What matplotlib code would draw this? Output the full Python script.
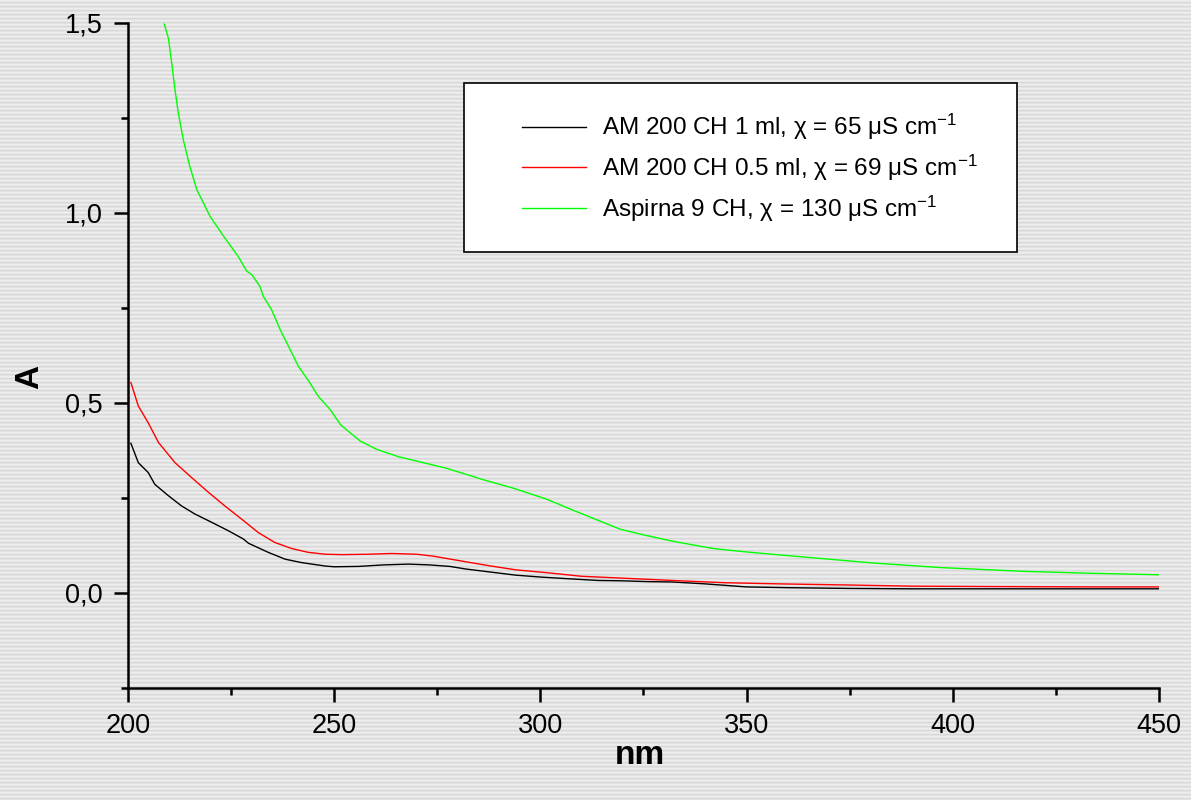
import numpy as np
import matplotlib
matplotlib.use('Agg')
import matplotlib.pyplot as plt
from matplotlib.ticker import MultipleLocator, FuncFormatter
from matplotlib.patches import Rectangle

plt.rcParams['font.family'] = ['Liberation Sans', 'DejaVu Sans']
plt.rcParams['mathtext.fontset'] = 'custom'
plt.rcParams['mathtext.rm'] = 'Liberation Sans'
plt.rcParams['mathtext.it'] = 'Liberation Sans:italic'

# UV spectra: wavelength (nm) vs absorbance
nm_am1 = [200.7, 202.5, 204.9, 206.5, 209.8, 213.0, 216.2, 220.3, 224.3, 228.0, 229.2,
          234.0, 238.1, 242.1, 247.8, 250, 256, 262, 268, 273, 278, 282, 288, 294,
          300, 306, 314, 320, 326, 332, 340, 350, 360, 375, 390, 410, 435, 450]
a_am1 = [0.394, 0.343, 0.317, 0.286, 0.256, 0.229, 0.208, 0.186, 0.164, 0.142, 0.131,
         0.107, 0.089, 0.080, 0.071, 0.069, 0.070, 0.074, 0.076, 0.074, 0.070, 0.063,
         0.055, 0.047, 0.042, 0.038, 0.033, 0.032, 0.030, 0.029, 0.024, 0.016, 0.014,
         0.012, 0.011, 0.011, 0.011, 0.011]

nm_am05 = [200.7, 202.5, 204.9, 207.4, 211.4, 215.4, 219.5, 223.5, 227.6, 231.6, 235.6,
           239.7, 243.7, 247.8, 252, 258, 264, 270, 274, 282, 288, 294, 302, 310, 320,
           334, 345, 358, 375, 390, 410, 435, 450]
a_am05 = [0.554, 0.492, 0.448, 0.396, 0.343, 0.304, 0.265, 0.229, 0.194, 0.159, 0.133,
          0.117, 0.107, 0.102, 0.101, 0.102, 0.104, 0.102, 0.097, 0.082, 0.071, 0.061,
          0.053, 0.044, 0.039, 0.032, 0.027, 0.024, 0.021, 0.018, 0.017, 0.016, 0.016]

nm_asp = [208.8, 209.8, 210.6, 211.4, 212.2, 213.4, 215.0, 216.7, 217.9, 219.9, 223.5,
          226.7, 228.8, 230.0, 232.0, 232.8, 234.8, 236.9, 239.3, 241.3, 244.1, 246.1,
          249.0, 251.6, 256.3, 260.3, 265.5, 271.6, 277.3, 286.2, 293.4, 301.5, 307.9,
          315.2, 319.3, 325.8, 332.2, 341.9, 350, 364.6, 380.7, 396.9, 417.1, 433.3, 450]
a_asp = [1.497, 1.46, 1.394, 1.324, 1.263, 1.193, 1.122, 1.061, 1.035, 0.991, 0.934,
         0.886, 0.847, 0.838, 0.807, 0.781, 0.746, 0.693, 0.641, 0.597, 0.553, 0.518,
         0.483, 0.442, 0.400, 0.378, 0.359, 0.343, 0.328, 0.298, 0.276, 0.247, 0.218,
         0.186, 0.168, 0.151, 0.136, 0.117, 0.108, 0.094, 0.079, 0.067, 0.057, 0.052, 0.048]

labels = ['AM 200 CH 1 ml, χ = 65 μS cm$^{-1}$',
          'AM 200 CH 0.5 ml, χ = 69 μS cm$^{-1}$',
          'Aspirna 9 CH, χ = 130 μS cm$^{-1}$']
colors = ['black', '#ff0000', '#00ff00']

W, H = 1191, 800
fig = plt.figure(figsize=(W / 100, H / 100), dpi=100)

# striped grey backdrop
cycle = np.array([0.93, 0.91, 0.85, 0.89])
rows = np.tile(cycle, H // 4 + 1)[:H]
bg = np.repeat(rows[:, None], W, axis=1)
bg = np.dstack([bg, bg, bg])
fig.figimage(bg, xo=0, yo=0, zorder=-10)

ax = fig.add_axes([128 / W, (H - 688) / H, 1031 / W, 665 / H])
ax.patch.set_visible(False)

for x, y, c, lab in zip([nm_am1, nm_am05, nm_asp], [a_am1, a_am05, a_asp], colors, labels):
    ax.plot(x, y, color=c, lw=1.0, label=lab)

ax.set_xlim(200, 450)
ax.set_ylim(-0.25, 1.5)
ax.xaxis.set_major_locator(MultipleLocator(50))
ax.xaxis.set_minor_locator(MultipleLocator(25))
ax.yaxis.set_major_locator(MultipleLocator(0.5))
ax.yaxis.set_minor_locator(MultipleLocator(0.25))
ax.yaxis.set_major_formatter(FuncFormatter(lambda v, p: f'{v:.1f}'.replace('.', ',')))

for s in ['top', 'right']:
    ax.spines[s].set_visible(False)
for s in ['left', 'bottom']:
    ax.spines[s].set_linewidth(1.8)
ax.tick_params(which='major', direction='out', length=10, width=1.8, labelsize=19.5, pad=8)
ax.tick_params(which='minor', direction='out', length=5, width=1.8)

fig.text(640 / W, 1 - 756 / H, 'nm', fontsize=24, fontweight='bold', ha='center', va='center')
fig.text(30 / W, 1 - 377 / H, 'A', fontsize=24, fontweight='bold', ha='center', va='center',
         rotation=90)

# legend box
x0 = (464 - 128) / 1031
y0 = (688 - 252) / 665
ax.add_patch(Rectangle((x0, y0), (1017 - 464) / 1031, (252 - 83) / 665, transform=ax.transAxes,
                       facecolor='white', edgecolor='black', lw=1.2, zorder=5, clip_on=False))
leg = ax.legend(loc='upper left', bbox_to_anchor=((522 - 128) / 1031, (688 - 112) / 665),
                frameon=False, fontsize=17.5, handlelength=2.65, handletextpad=0.65,
                labelspacing=0.43, borderpad=0, borderaxespad=0)
leg.set_zorder(6)

fig.savefig('out.png', dpi=100)
